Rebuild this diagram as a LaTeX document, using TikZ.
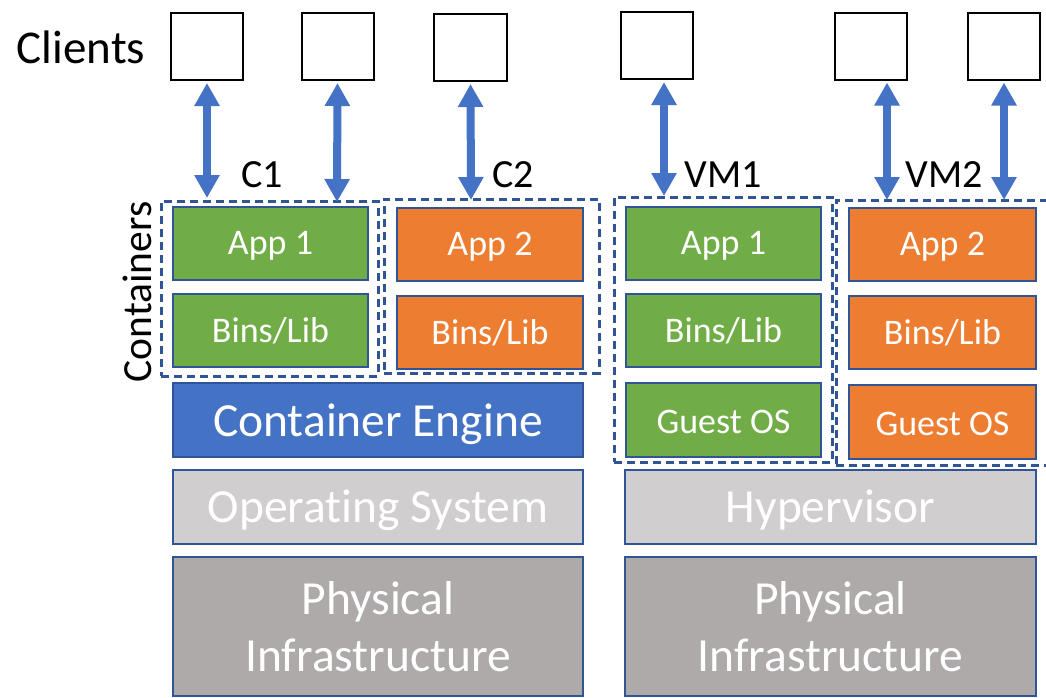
\documentclass[tikz,border=0pt]{standalone}
\usepackage{fontspec}
\setmainfont{Carlito}[Ligatures=NoCommon]
\usetikzlibrary{arrows.meta}
\definecolor{gfill}{HTML}{70AD47}
\definecolor{ofill}{HTML}{ED7D31}
\definecolor{bfill}{HTML}{4472C4}
\definecolor{lgfill}{HTML}{D0CECE}
\definecolor{dgfill}{HTML}{AEAAAA}
\definecolor{bordc}{HTML}{2F5597}
\definecolor{arrc}{HTML}{4472C4}
\newcommand{\lowr}[2]{\raisebox{-#1}[\height][\depth]{#2}}
\tikzset{
  layer/.style={draw=bordc, line width=2pt, text=white, inner sep=0pt, align=center},
  small/.style={layer, font=\fontsize{36}{40}\selectfont},
  big/.style={layer, font=\fontsize{47.5}{57}\selectfont},
  client/.style={draw=black, line width=2pt, fill=white, minimum width=72pt, minimum height=67pt, inner sep=0pt},
  group/.style={draw=bordc, line width=3pt, dash pattern=on 8pt off 5pt, inner sep=0pt},
  lbl/.style={font=\fontsize{40}{44}\selectfont, inner sep=0pt},
  arr/.style={draw=arrc, line width=8pt, {Triangle[width=24pt,length=23pt]}-{Triangle[width=24pt,length=23pt]}, shorten <=2pt, shorten >=0pt}
}
\begin{document}
\begin{tikzpicture}[x=1pt,y=-1pt]
\useasboundingbox (0,0) rectangle (1046,697);
% clients
\node[lbl, font=\fontsize{47}{50}\selectfont] (clients) at (81,47) {Clients};
\node[client] (cl1) at (207,46.5) {};
\node[client] (cl2) at (337.5,46.5) {};
\node[client, minimum width=73pt] (cl3) at (470.5,47.5) {};
\node[client] (cl4) at (656.5,45.5) {};
\node[client] (cl5) at (871,46) {};
\node[client] (cl6) at (1004,46) {};
% group boxes
\node[group, minimum width=217pt, minimum height=175pt] (c1box) at (269.5,288.5) {};
\node[group, minimum width=215pt, minimum height=174pt] (c2box) at (491.5,286) {};
\node[group, minimum width=218pt, minimum height=265pt] (vm1box) at (723,329.5) {};
\node[group, minimum width=214pt, minimum height=265pt] (vm2box) at (943,332.5) {};
% labels
\node[lbl] (lc1) at (262,175) {C1};
\node[lbl] (lc2) at (513,175) {C2};
\node[lbl] (lvm1) at (723,175) {VM1};
\node[lbl] (lvm2) at (944,175) {VM2};
\node[lbl, rotate=90, font=\fontsize{41.5}{44}\selectfont] (lcont) at (137,292) {Containers};
% container side
\node[small, fill=gfill, minimum width=195pt, minimum height=73pt] (c1app) at (270.5,243.5) {\lowr{2pt}{App 1}};
\node[small, fill=gfill, minimum width=195pt, minimum height=73pt] (c1bins) at (270.5,330.5) {Bins/Lib};
\node[small, fill=ofill, minimum width=186pt, minimum height=73pt] (c2app) at (490,244.5) {\lowr{2pt}{App 2}};
\node[small, fill=ofill, minimum width=186pt, minimum height=73pt] (c2bins) at (490,332.5) {Bins/Lib};
\node[big, fill=bfill, minimum width=410pt, minimum height=74pt] (engine) at (378,420) {\lowr{4pt}{Container Engine}};
\node[big, fill=lgfill, minimum width=410pt, minimum height=74pt] (os) at (378,507) {\lowr{3pt}{Operating System}};
\node[big, fill=dgfill, minimum width=410pt, minimum height=139pt] (phys1) at (378,626.5) {Physical\\Infrastructure};
% VM side
\node[small, fill=gfill, minimum width=195pt, minimum height=73pt] (v1app) at (723.5,243.5) {\lowr{2pt}{App 1}};
\node[small, fill=gfill, minimum width=195pt, minimum height=73pt] (v1bins) at (723.5,330.5) {Bins/Lib};
\node[small, fill=gfill, minimum width=195pt, minimum height=74pt] (v1guest) at (723.5,420) {\lowr{2pt}{Guest OS}};
\node[small, fill=ofill, minimum width=187pt, minimum height=73pt] (v2app) at (942.5,244.5) {\lowr{2pt}{App 2}};
\node[small, fill=ofill, minimum width=187pt, minimum height=73pt] (v2bins) at (942.5,332.5) {Bins/Lib};
\node[small, fill=ofill, minimum width=187pt, minimum height=74pt] (v2guest) at (942.5,422) {\lowr{2pt}{Guest OS}};
\node[big, fill=lgfill, minimum width=411pt, minimum height=74pt] (hyper) at (830.5,507) {\lowr{3pt}{Hypervisor}};
\node[big, fill=dgfill, minimum width=411pt, minimum height=139pt] (phys2) at (830.5,626.5) {Physical\\Infrastructure};
% arrow end points
\coordinate (a1) at (207,198);
\coordinate (a2) at (337,202);
\coordinate (a3) at (471,200);
\coordinate (a4) at (664,196);
\coordinate (a5) at (887,200);
\coordinate (a6) at (1004,200);
\draw[arr] (cl1.south) -- (a1);
\draw[arr] (cl2.south) -- (a2);
\draw[arr] (cl3.south) -- (a3);
\draw[arr] ([xshift=7.5pt]cl4.south) -- (a4);
\draw[arr] ([xshift=16pt]cl5.south) -- (a5);
\draw[arr] (cl6.south) -- (a6);
\end{tikzpicture}
\end{document}
